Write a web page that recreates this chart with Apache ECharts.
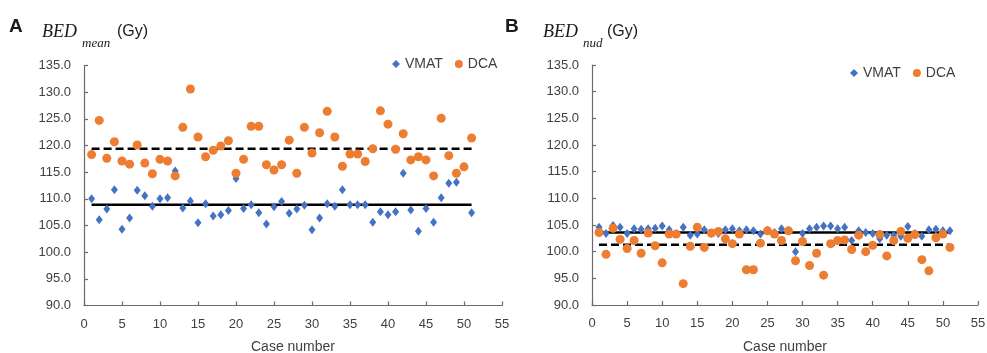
<!DOCTYPE html>
<html>
<head>
<meta charset="utf-8">
<script src="https://cdn.jsdelivr.net/npm/echarts@6/dist/echarts.min.js"></script>
<style>html,body{margin:0;padding:0;background:#fff}#c{width:987px;height:353px}</style>
</head>
<body>
<div id="c"></div>
<script>
var caseNums = [1,2,3,4,5,6,7,8,9,10,11,12,13,14,15,16,17,18,19,20,21,22,23,24,25,26,27,28,29,30,31,32,33,34,35,36,37,38,39,40,41,42,43,44,45,46,47,48,49,50,51];
var vmatA = [110.0,106.1,108.1,111.7,104.3,106.4,111.6,110.6,108.6,110.0,110.2,115.2,108.3,109.6,105.5,109.1,106.8,107.0,107.8,113.8,108.2,108.9,107.4,105.3,108.5,109.5,107.3,108.1,108.8,104.2,106.4,109.1,108.6,111.7,108.9,108.9,108.9,105.6,107.6,107.0,107.6,114.8,107.9,103.9,108.2,105.6,110.2,112.9,113.1,116.0,107.4];
var dcaA = [118.3,124.7,117.6,120.7,117.1,116.5,120.1,116.7,114.7,117.4,117.1,114.3,123.4,130.6,121.6,117.9,119.1,119.9,120.9,114.8,117.4,123.6,123.6,116.4,115.4,116.4,121.0,114.8,123.4,118.6,122.4,126.4,121.6,116.1,118.4,118.4,117.0,119.4,126.5,124.0,119.3,122.2,117.3,117.9,117.3,114.3,125.1,118.1,114.8,116.0,121.4];
var vmatB = [104.6,103.4,104.9,104.6,103.4,104.3,104.2,104.3,104.4,104.8,104.1,103.3,104.6,103.1,103.3,104.1,103.4,103.4,104.1,104.3,103.9,104.1,103.9,103.3,104.0,103.6,104.3,103.9,100.0,103.4,104.3,104.6,104.8,104.8,104.3,104.6,102.1,103.9,103.6,103.4,102.4,103.1,103.1,102.9,104.7,103.4,102.9,104.1,104.2,103.9,103.9];
var dcaB = [103.6,99.5,104.4,102.3,100.6,102.1,99.7,103.5,101.1,97.9,103.3,103.3,94.0,101.0,104.6,100.8,103.5,103.8,102.4,101.5,103.3,96.6,96.6,101.6,103.9,103.3,102.1,103.9,98.3,101.9,97.4,99.7,95.6,101.5,102.1,102.2,100.4,103.1,100.0,101.2,103.2,99.2,102.1,103.8,102.5,103.2,98.5,96.4,102.6,103.3,100.8];
var meanA = {VMAT: 108.9, DCA: 119.4};
var meanB = {VMAT: 103.6, DCA: 101.3};
var xTicks = {min: 0, max: 55, step: 5};
var yTicks = {min: 90, max: 135, step: 5};
var seriesNames = ['VMAT', 'DCA'];

function pairs(xs, ys) { return xs.map(function (x, i) { return [x, ys[i]]; }); }
function meanLine(v) { return [[caseNums[0], v], [caseNums[caseNums.length - 1], v]]; }

var BLUE = '#4472C4', ORANGE = '#ED7D31', AX = '#6b6b6b', TXT = '#404040';
function xAxis(gi) {
  return {
    gridIndex: gi, type: 'value', min: xTicks.min, max: xTicks.max, interval: xTicks.step,
    name: 'Case number', nameLocation: 'middle', nameGap: 35,
    nameTextStyle: {fontFamily: 'Liberation Sans', fontSize: 14, color: TXT},
    axisLine: {show: true, onZero: false, lineStyle: {color: AX, width: 1.2}},
    axisTick: {show: true, inside: true, length: 4, lineStyle: {color: AX, width: 1.2}},
    axisLabel: {fontFamily: 'Liberation Sans', fontSize: 13, color: TXT, margin: 12},
    splitLine: {show: false}
  };
}
function yAxis(gi) {
  return {
    gridIndex: gi, type: 'value', min: yTicks.min, max: yTicks.max, interval: yTicks.step,
    axisLine: {show: true, lineStyle: {color: AX, width: 1.2}},
    axisTick: {show: true, inside: true, length: 4, lineStyle: {color: AX, width: 1.2}},
    axisLabel: {fontFamily: 'Liberation Sans', fontSize: 13, color: TXT, margin: 13,
      formatter: function (v) { return v.toFixed(1); }},
    splitLine: {show: false}
  };
}
function lineSeries(gi, v, dashed) {
  return {type: 'line', xAxisIndex: gi, yAxisIndex: gi, data: meanLine(v), symbol: 'none', silent: true,
    lineStyle: {color: '#000', width: 2.5, type: dashed ? [8, 4] : 'solid'}, z: 1, legendHoverLink: false};
}
function scatter(gi, name, ys) {
  return {type: 'scatter', name: name, xAxisIndex: gi, yAxisIndex: gi, data: pairs(caseNums, ys),
    symbol: name === 'VMAT' ? 'diamond' : 'circle', symbolSize: name === 'VMAT' ? [7, 9] : 9,
    itemStyle: {color: name === 'VMAT' ? BLUE : ORANGE, opacity: 1}, z: name === 'VMAT' ? 3 : 4};
}
function legend(left, top) {
  return {left: left, top: top, itemWidth: 8, itemHeight: 8, itemGap: 12, orient: 'horizontal',
    textStyle: {fontFamily: 'Liberation Sans', fontSize: 14, color: TXT},
    data: [{name: seriesNames[0], icon: 'diamond'}, {name: seriesNames[1], icon: 'circle'}]};
}
function titleText(x, bx, letter, sub) {
  return [
    {type: 'text', left: x, top: 17, style: {text: letter, font: 'bold 19px "Liberation Sans"', fill: '#1a1a1a'}},
    {type: 'text', left: bx, top: 23, style: {text: 'BED', font: 'italic 18px "Liberation Serif"', fill: '#1a1a1a'}},
    {type: 'text', left: bx + 40, top: 37, style: {text: sub, font: 'italic 13px "Liberation Serif"', fill: '#1a1a1a'}},
    {type: 'text', left: bx + 40 + (sub === 'mean' ? 35 : 24), top: 24, style: {text: '(Gy)', font: '16px "Liberation Sans"', fill: '#1a1a1a'}}
  ];
}

var chart = echarts.init(document.getElementById('c'), null, {renderer: 'canvas'});
chart.setOption({
  animation: false,
  backgroundColor: '#fff',
  grid: [
    {left: 84, right: 485, top: 65.5, bottom: 47.5, containLabel: false, outerBoundsMode: 'none'},
    {left: 592, right: 9, top: 65, bottom: 48, containLabel: false, outerBoundsMode: 'none'}
  ],
  xAxis: [xAxis(0), xAxis(1)],
  yAxis: [yAxis(0), yAxis(1)],
  legend: [legend(387, 52), legend(845, 61)],
  graphic: titleText(9, 42, 'A', 'mean').concat(titleText(505, 543, 'B', 'nud')),
  series: [
    lineSeries(0, meanA.VMAT, false),
    lineSeries(0, meanA.DCA, true),
    scatter(0, 'VMAT', vmatA),
    scatter(0, 'DCA', dcaA),
    lineSeries(1, meanB.VMAT, false),
    lineSeries(1, meanB.DCA, true),
    scatter(1, 'VMAT', vmatB),
    scatter(1, 'DCA', dcaB)
  ]
});
</script>
</body>
</html>
